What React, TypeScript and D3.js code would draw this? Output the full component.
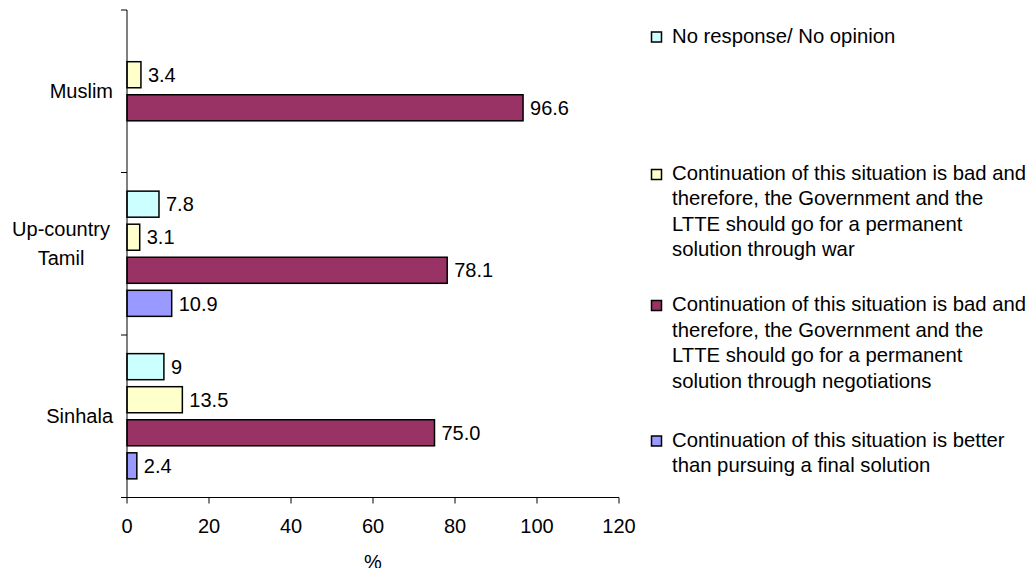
import React from "react";
import * as d3 from "d3";

const categories = ["Muslim", "Up-country Tamil", "Sinhala"];
const seriesKeys = ["noResponse", "war", "negotiations", "better"];
const seriesColors = ["#CCFFFF", "#FFFFCC", "#993366", "#9999FF"];
const legendLines = [
  ["No response/ No opinion"],
  [
    "Continuation of this situation is bad and",
    "therefore, the Government and the",
    "LTTE should go for a permanent",
    "solution through war",
  ],
  [
    "Continuation of this situation is bad and",
    "therefore, the Government and the",
    "LTTE should go for a permanent",
    "solution through negotiations",
  ],
  ["Continuation of this situation is better", "than pursuing a final solution"],
];

// values per category: Muslim, Up-country Tamil, Sinhala
const noResponse = [null, 7.8, 9];
const war = [3.4, 3.1, 13.5];
const negotiations = [96.6, 78.1, 75.0];
const better = [null, 10.9, 2.4];
// printed value labels
const noResponseLabels = ["", "7.8", "9"];
const warLabels = ["3.4", "3.1", "13.5"];
const negotiationsLabels = ["96.6", "78.1", "75.0"];
const betterLabels = ["", "10.9", "2.4"];
const xTicks = [0, 20, 40, 60, 80, 100, 120];

const seriesValues = [noResponse, war, negotiations, better];
const seriesLabels = [noResponseLabels, warLabels, negotiationsLabels, betterLabels];

const FONT = "'Liberation Sans', Arial, sans-serif";

export default function App() {
  const W = 1036;
  const H = 576;
  const x0 = 127;
  const x1 = 619;
  const yTop = 10;
  const yBot = 497.5;

  const x = d3.scaleLinear().domain([0, 120]).range([x0, x1]);
  const yCat = d3.scaleBand<string>().domain(categories).range([yTop, yBot]).padding(0);
  const ySer = d3
    .scaleBand<string>()
    .domain(seriesKeys)
    .range([0, yCat.bandwidth()])
    .paddingInner(0.212)
    .paddingOuter(0.564);

  const legendX = 651.5;
  const legendTextX = 672;
  const legendBaselines = [[42.5], [180, 205, 230.5, 255.5], [311, 336.5, 362, 387.5], [446.5, 471.5]];

  return (
    <div style={{ margin: -8, width: W, height: H }}>
      <svg width={W} height={H} style={{ display: "block", background: "#fff" }} fontFamily={FONT}>
        {/* bars */}
        {categories.map((cat, ci) =>
          seriesKeys.map((key, si) => {
            const v = seriesValues[si][ci];
            if (v === null || v === undefined) return null;
            const y = (yCat(cat) as number) + (ySer(key) as number);
            const h = ySer.bandwidth();
            return (
              <g key={cat + key}>
                <rect
                  x={x(0)}
                  y={y}
                  width={x(v) - x(0)}
                  height={h}
                  fill={seriesColors[si]}
                  stroke="#000"
                  strokeWidth={1.5}
                />
                <text x={x(v) + 7} y={y + h / 2} dy="0.36em" fontSize={20} fill="#000">
                  {seriesLabels[si][ci]}
                </text>
              </g>
            );
          })
        )}

        {/* y axis */}
        <line x1={x0} x2={x0} y1={yTop} y2={yBot} stroke="#000" strokeWidth={1} />
        {[...categories.map((c) => yCat(c) as number), yBot].map((yy, i) => (
          <line key={"yt" + i} x1={x0 - 6} x2={x0} y1={yy} y2={yy} stroke="#000" strokeWidth={1} />
        ))}
        {/* category labels */}
        <text x={113} y={(yCat("Muslim") as number) + yCat.bandwidth() / 2} dy="0.36em" fontSize={20} textAnchor="end">
          Muslim
        </text>
        <text x={61} y={236} fontSize={20} textAnchor="middle">
          Up-country
        </text>
        <text x={61} y={265} fontSize={20} textAnchor="middle">
          Tamil
        </text>
        <text x={113} y={(yCat("Sinhala") as number) + yCat.bandwidth() / 2} dy="0.36em" fontSize={20} textAnchor="end">
          Sinhala
        </text>

        {/* x axis */}
        <line x1={x0} x2={x1} y1={yBot} y2={yBot} stroke="#000" strokeWidth={1} />
        {xTicks.map((t) => (
          <g key={"xt" + t}>
            <line x1={x(t)} x2={x(t)} y1={yBot} y2={yBot + 6} stroke="#000" strokeWidth={1} />
            <text x={x(t)} y={532.5} fontSize={20} textAnchor="middle">
              {t}
            </text>
          </g>
        ))}
        <text x={(x0 + x1) / 2} y={569} fontSize={20} textAnchor="middle">
          %
        </text>

        {/* legend */}
        {legendLines.map((lines, i) => (
          <g key={"lg" + i}>
            <rect
              x={legendX}
              y={legendBaselines[i][0] - 10.5}
              width={10}
              height={10}
              fill={seriesColors[i]}
              stroke="#000"
              strokeWidth={1.5}
            />
            {lines.map((ln, j) => (
              <text key={j} x={legendTextX} y={legendBaselines[i][j]} fontSize={20.3} fill="#000">
                {ln}
              </text>
            ))}
          </g>
        ))}
      </svg>
    </div>
  );
}
